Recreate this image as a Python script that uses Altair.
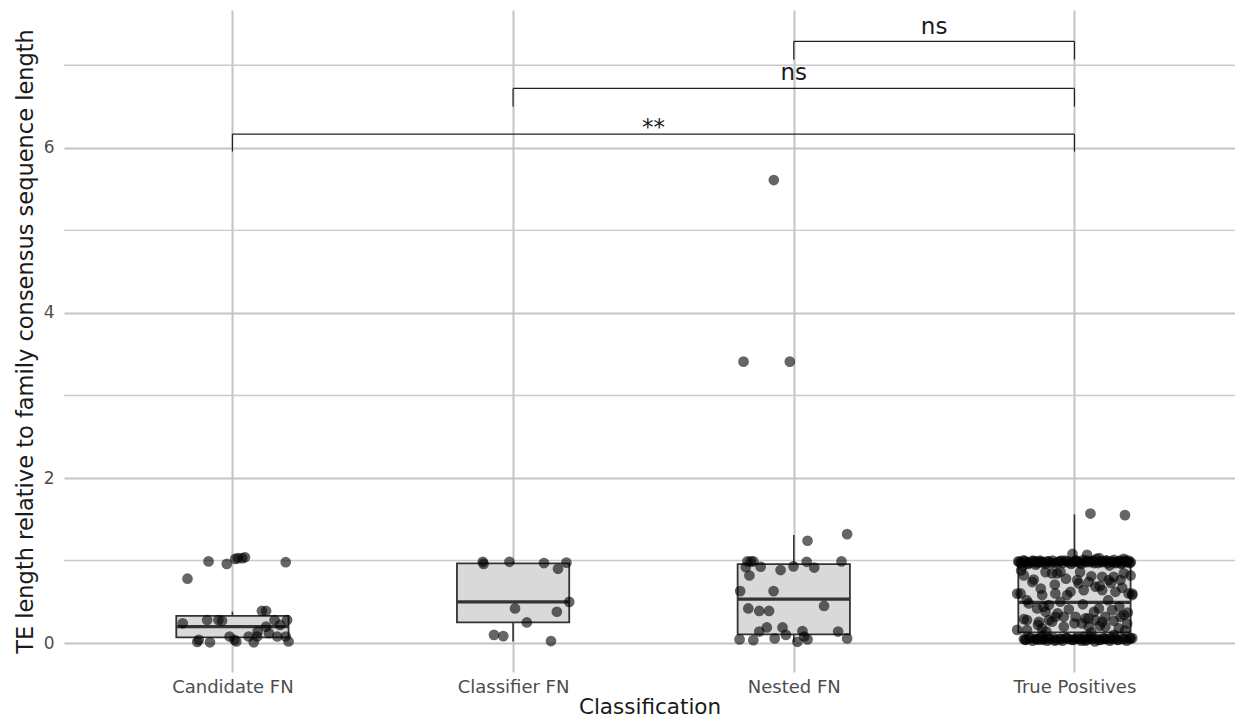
import altair as alt
import pandas as pd

categories = ["Candidate FN", "Classifier FN", "Nested FN", "True Positives"]

# jitter offsets (category units) and values
cand_jit = [-0.16, -0.085, -0.02, 0.01, 0.02, 0.035, 0.045, 0.19, 0.105, 0.12,
            -0.125, -0.12, -0.08, -0.01, 0.007, 0.014, 0.058, 0.076, 0.088, 0.16,
            0.19, 0.2, -0.177, -0.09, -0.05, -0.037, 0.12, 0.15, 0.17, 0.195,
            0.09, 0.13]
cand_val = [0.78, 0.99, 0.96, 1.02, 1.03, 1.03, 1.04, 0.98, 0.39, 0.39,
            0.015, 0.04, 0.01, 0.08, 0.04, 0.02, 0.08, 0.01, 0.08, 0.08,
            0.08, 0.02, 0.24, 0.28, 0.28, 0.27, 0.2, 0.28, 0.22, 0.28,
            0.14, 0.12]

clas_jit = [-0.108, -0.105, -0.013, 0.11, 0.16, 0.19, 0.2, 0.007, 0.156, 0.049,
            -0.068, -0.035, 0.135]
clas_val = [0.985, 0.96, 0.985, 0.97, 0.9, 0.975, 0.5, 0.42, 0.38, 0.25,
            0.1, 0.085, 0.025]

nest_jit = [0.19, 0.049, -0.165, -0.153, -0.144, -0.001, 0.046, 0.17, -0.171, -0.118,
            -0.047, 0.073, -0.158, -0.191, -0.072, -0.162, -0.123, -0.088, 0.108, -0.123,
            -0.096, -0.04, 0.031, 0.158, -0.193, -0.144, -0.068, -0.028, 0.013, 0.037,
            0.049, 0.19, -0.071, -0.179, -0.014]
nest_val = [1.32, 1.24, 0.99, 0.99, 0.99, 0.93, 0.985, 0.99, 0.92, 0.925,
            0.885, 0.915, 0.82, 0.63, 0.63, 0.42, 0.39, 0.39, 0.45, 0.14,
            0.19, 0.19, 0.145, 0.14, 0.045, 0.036, 0.057, 0.1, 0.016, 0.08,
            0.045, 0.057, 5.61, 3.41, 3.41]

tp_jit = [
    # upper band
    -0.2, -0.191, -0.183, -0.172, -0.166, -0.152, -0.147, -0.133, -0.127, -0.118,
    -0.104, -0.097, -0.083, -0.078, -0.061, -0.052, -0.041, -0.033, -0.019, -0.012,
    0.002, 0.011, 0.018, 0.032, 0.041, 0.048, 0.063, 0.071, 0.079, 0.092,
    0.098, 0.112, 0.119, 0.133, 0.141, 0.152, 0.163, 0.171, 0.184, 0.193,
    0.201, -0.007, 0.045, 0.088, -0.138, 0.176, -0.185, 0.125,
    -0.196, -0.178, -0.158, -0.141, -0.122, -0.109, -0.091, -0.069, -0.047, -0.026,
    -0.004, 0.007, 0.025, 0.036, 0.055, 0.067, 0.084, 0.105, 0.116, 0.138,
    0.147, 0.158, 0.167, 0.18, 0.189, 0.197,
    # scattered middle
    -0.18, -0.145, -0.103, -0.08, -0.062, -0.05, 0.01, 0.015, 0.051, 0.075,
    0.099, 0.122, 0.14, 0.164, 0.176, -0.192, -0.115, -0.068, -0.026, -0.014,
    0.033, 0.099, 0.146, 0.193, 0.206, -0.163, -0.091, -0.05, -0.133, -0.103,
    -0.068, -0.038, 0.004, 0.039, 0.087, 0.11, 0.134, 0.164, 0.176, -0.169,
    -0.127, -0.091, 0.075, 0.099, 0.027, -0.169, -0.115, -0.038, 0.051, 0.11,
    0.158, 0.188, -0.204, -0.204, 0.206, 0.057, 0.18,
    -0.19, -0.15, -0.12, -0.07, -0.03, 0.02, 0.06, 0.09, 0.13, 0.17,
    0.2, -0.17, -0.11, -0.06, -0.02, 0.03, 0.07, 0.12, 0.16, 0.19,
    -0.18, -0.13, -0.08, 0.0, 0.05, 0.09, 0.14, 0.18, -0.1, 0.06,
    # lower band
    -0.18, -0.172, -0.161, -0.149, -0.139, -0.128, -0.121, -0.108, -0.097, -0.088,
    -0.074, -0.066, -0.052, -0.043, -0.031, -0.022, -0.009, 0.003, 0.012, 0.024,
    0.031, 0.044, 0.053, 0.061, 0.073, 0.081, 0.094, 0.103, 0.112, 0.126,
    0.133, 0.145, 0.157, 0.171, 0.186, 0.197, 0.206, -0.115, 0.035, 0.141,
    -0.176, -0.155, -0.133, -0.113, -0.092, -0.07, -0.048, -0.026, -0.004, 0.018,
    0.039, 0.066, 0.088, 0.108, 0.13, 0.152, 0.178, 0.2,
]
tp_val = [
    # upper band
    0.99, 0.97, 1.0, 0.98, 0.96, 0.99, 1.0, 0.97, 0.99, 0.98,
    0.96, 0.99, 0.97, 1.0, 0.98, 0.99, 0.97, 1.0, 0.98, 0.96,
    1.0, 0.99, 0.97, 1.01, 0.98, 1.0, 0.99, 0.97, 1.02, 0.99,
    0.98, 1.0, 0.97, 0.99, 1.01, 0.98, 1.0, 0.97, 0.99, 1.0,
    0.98, 1.08, 1.07, 1.03, 0.95, 1.02, 0.93, 0.94,
    0.98, 1.0, 0.97, 0.99, 1.0, 0.98, 0.99, 0.97, 1.0, 0.99,
    0.98, 1.0, 0.96, 0.99, 0.98, 1.0, 0.97, 0.99, 1.0, 0.98,
    0.97, 0.99, 0.96, 1.0, 0.98, 0.97,
    # scattered middle
    0.82, 0.77, 0.86, 0.845, 0.845, 0.864, 0.764, 0.723, 0.743, 0.683,
    0.804, 0.764, 0.804, 0.764, 0.845, 0.602, 0.582, 0.602, 0.582, 0.622,
    0.642, 0.642, 0.622, 0.602, 0.582, 0.481, 0.461, 0.501, 0.42, 0.38,
    0.319, 0.319, 0.319, 0.299, 0.42, 0.319, 0.4, 0.319, 0.34, 0.279,
    0.258, 0.279, 0.279, 0.258, 0.238, 0.158, 0.178, 0.198, 0.198, 0.198,
    0.178, 0.238, 0.6, 0.16, 0.6, 1.57, 1.55,
    0.88, 0.74, 0.66, 0.71, 0.78, 0.86, 0.81, 0.69, 0.73, 0.67,
    0.82, 0.52, 0.44, 0.36, 0.41, 0.47, 0.38, 0.52, 0.44, 0.37,
    0.29, 0.22, 0.26, 0.24, 0.3, 0.21, 0.27, 0.15, 0.14, 0.13,
    # lower band
    0.05, 0.04, 0.06, 0.03, 0.05, 0.04, 0.06, 0.05, 0.03, 0.05,
    0.06, 0.04, 0.05, 0.03, 0.06, 0.05, 0.04, 0.05, 0.06, 0.03,
    0.05, 0.04, 0.06, 0.05, 0.02, 0.05, 0.04, 0.06, 0.05, 0.03,
    0.05, 0.06, 0.04, 0.05, 0.03, 0.05, 0.06, 0.09, 0.08, 0.1,
    0.04, 0.06, 0.05, 0.04, 0.06, 0.03, 0.05, 0.06, 0.04, 0.05,
    0.03, 0.06, 0.04, 0.05, 0.06, 0.04, 0.05, 0.06,
]

# box summaries
box_q1 = [0.07, 0.25, 0.105, 0.13]
box_med = [0.2, 0.5, 0.533, 0.493]
box_q3 = [0.33, 0.966, 0.957, 0.954]
box_lo = [0.01, 0.02, 0.016, 0.02]
box_hi = [0.38, 0.985, 1.31, 1.56]

# significance brackets
br_from = [0, 1, 2]
br_to = [3, 3, 3]
br_y = [6.166, 6.72, 7.29]
br_tip = [5.955, 6.5, 7.07]
br_label = ["**", "ns", "ns"]
br_label_y = [6.15, 6.82, 7.385]

y_major = [0, 2, 4, 6]
y_minor = [1, 3, 5, 7]

BOX_HALF = 0.2
W, H = 1171, 662
FONT = "DejaVu Sans"

pts = []
for i, (jits, vals) in enumerate([(cand_jit, cand_val), (clas_jit, clas_val),
                                  (nest_jit, nest_val), (tp_jit, tp_val)]):
    for j, v in zip(jits, vals):
        pts.append({"x": i + j, "value": v, "cat": categories[i]})
pts = pd.DataFrame(pts)

boxes = pd.DataFrame({
    "idx": list(range(len(categories))),
    "left": [i - BOX_HALF for i in range(len(categories))],
    "right": [i + BOX_HALF for i in range(len(categories))],
    "q1": box_q1, "med": box_med, "q3": box_q3, "lo": box_lo, "hi": box_hi,
})

br = pd.DataFrame({
    "x1": br_from, "x2": br_to, "y": br_y, "tip": br_tip,
    "label": br_label, "ly": br_label_y,
    "mid": [(a + b) / 2 for a, b in zip(br_from, br_to)],
})

minor = pd.DataFrame({"g": y_minor})

label_expr = "[" + ",".join("'" + c + "'" for c in categories) + "][datum.value]"

xscale = alt.Scale(domain=[-0.6, 3.572], nice=False, zero=False)
yscale = alt.Scale(domain=[-0.35, 7.67], nice=False, zero=False)

xaxis = alt.Axis(values=[0, 1, 2, 3], labelExpr=label_expr, title="Classification",
                 grid=True, gridColor="#c4c4c4", gridWidth=2, domain=False, ticks=False,
                 labelFontSize=18, labelColor="#4d4d4d", labelPadding=6,
                 titleFontSize=21.5, titleColor="#1a1a1a", titleFontWeight="normal",
                 titlePadding=0, labelFont=FONT, titleFont=FONT)
yaxis = alt.Axis(values=y_major, format="d",
                 title="TE length relative to family consensus sequence length",
                 grid=True, gridColor="#c4c4c4", gridWidth=2, domain=False, ticks=False,
                 labelFontSize=17, labelColor="#4d4d4d", labelPadding=10,
                 titleFontSize=22.5, titleColor="#1a1a1a", titleFontWeight="normal",
                 titleX=-27, titleY=H / 2, titleBaseline="bottom", titleAlign="center",
                 titleAngle=270, labelFont=FONT, titleFont=FONT)


def X(field):
    return alt.X(field, scale=xscale, axis=xaxis)


def Y(field):
    return alt.Y(field, scale=yscale, axis=yaxis)


minor_grid = alt.Chart(minor).mark_rule(color="#cacaca", strokeWidth=1.4).encode(
    y=Y("g:Q"), x=alt.value(0), x2=alt.value(W),
)
whisk = alt.Chart(boxes).mark_rule(color="#333333", strokeWidth=1.6).encode(
    x=X("idx:Q"), y=Y("lo:Q"), y2="hi:Q",
)
box = alt.Chart(boxes).mark_rect(fill="#d9d9d9", stroke="#333333", strokeWidth=1.8).encode(
    x=X("left:Q"), x2="right:Q", y=Y("q1:Q"), y2="q3:Q",
)
median = alt.Chart(boxes).mark_rule(color="#333333", strokeWidth=3.4).encode(
    x=X("left:Q"), x2="right:Q", y=Y("med:Q"),
)
points = alt.Chart(pts).mark_circle(size=115, color="black", opacity=0.6).encode(
    x=X("x:Q"), y=Y("value:Q"),
)
br_h = alt.Chart(br).mark_rule(color="#222222", strokeWidth=1.2).encode(
    x=X("x1:Q"), x2="x2:Q", y=Y("y:Q"),
)
br_l = alt.Chart(br).mark_rule(color="#222222", strokeWidth=1.2).encode(
    x=X("x1:Q"), y=Y("tip:Q"), y2="y:Q",
)
br_r = alt.Chart(br).mark_rule(color="#222222", strokeWidth=1.2).encode(
    x=X("x2:Q"), y=Y("tip:Q"), y2="y:Q",
)
br_t = alt.Chart(br).mark_text(fontSize=23, font=FONT, color="#1a1a1a",
                               baseline="alphabetic", align="center").encode(
    x=X("mid:Q"), y=Y("ly:Q"), text="label:N",
)

chart = alt.layer(minor_grid, whisk, box, median, points, br_h, br_l, br_r, br_t).properties(
    width=W, height=H,
    autosize=alt.AutoSizeParams(type="none"),
    padding={"left": 56, "top": 2, "right": 0, "bottom": 46},
    view=alt.ViewBackground(stroke="transparent", strokeWidth=0),
).configure_view(strokeWidth=0, stroke="transparent").configure(background="white")

chart.save("out.html", embed_options={"renderer": "svg", "actions": False})
